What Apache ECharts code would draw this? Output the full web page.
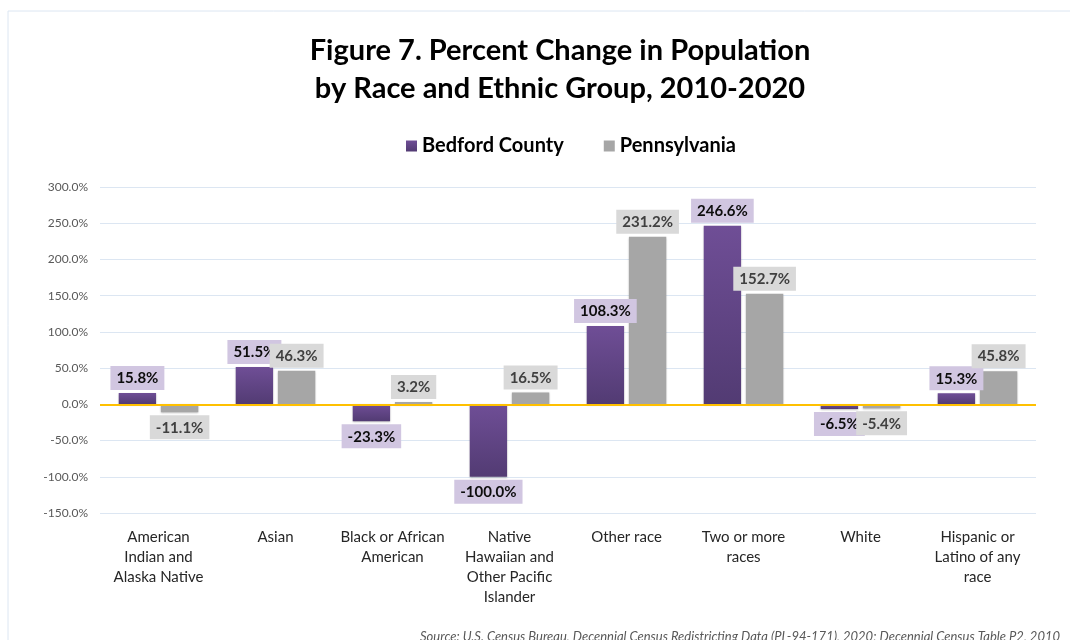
<!DOCTYPE html>
<html>
<head>
<meta charset="utf-8">
<script src="https://cdn.jsdelivr.net/npm/echarts@6/dist/echarts.min.js"></script>
<style>
  html, body { margin: 0; padding: 0; background: #fff; }
</style>
</head>
<body>
<div id="myChart" style="width:1070px;height:640px;"></div>
<script>
var categories = [
  'American\nIndian and\nAlaska Native',
  'Asian',
  'Black or African\nAmerican',
  'Native\nHawaiian and\nOther Pacific\nIslander',
  'Other race',
  'Two or more\nraces',
  'White',
  'Hispanic or\nLatino of any\nrace'
];
var bedford = [15.8, 51.5, -23.3, -100.0, 108.3, 246.6, -6.5, 15.3];
var pennsylvania = [-11.1, 46.3, 3.2, 16.5, 231.2, 152.7, -5.4, 45.8];

var font = 'Lato, "Open Sans", sans-serif';

// label sits above positive bars, below negative ones
function withLabels(values) {
  return values.map(function (v) {
    return { value: v, label: { position: v < 0 ? 'bottom' : 'top' } };
  });
}

var myChart = echarts.init(document.getElementById('myChart'));
myChart.setOption({
  animation: false,
  backgroundColor: '#fff',
  textStyle: { fontFamily: font },
  title: {
    text: 'Figure 7. Percent Change in Population\nby Race and Ethnic Group, 2010-2020',
    left: 555,
    textAlign: 'center',
    top: 27,
    textStyle: { fontSize: 29, fontWeight: 'bold', color: '#000', lineHeight: 38, fontFamily: font }
  },
  legend: {
    top: 131,
    left: 401,
    itemWidth: 11,
    itemHeight: 11,
    itemGap: 40,
    icon: 'rect',
    textStyle: { fontSize: 20, fontWeight: 'bold', color: '#000', fontFamily: font },
    data: ['Bedford County', 'Pennsylvania']
  },
  graphic: [
    {
      type: 'polyline',
      shape: { points: [[8, 640], [8, 11], [1070, 11]] },
      style: { stroke: '#dce6f2', lineWidth: 1, fill: null }
    },
    {
      type: 'text',
      right: 10,
      top: 630,
      style: {
        text: 'Source: U.S. Census Bureau, Decennial Census Redistricting Data (PL-94-171), 2020; Decennial Census Table P2, 2010',
        fill: '#595959',
        font: 'italic 13px ' + font
      }
    }
  ],
  grid: { left: 100, right: 34, top: 187, bottom: 127 },
  xAxis: {
    type: 'category',
    data: categories,
    axisLine: { show: false, onZero: false },
    axisTick: { show: false },
    axisLabel: { color: '#262626', fontSize: 15, lineHeight: 20, margin: 14, interval: 0, fontFamily: font }
  },
  yAxis: {
    type: 'value',
    min: -150,
    max: 300,
    interval: 50,
    axisLabel: {
      color: '#595959',
      fontSize: 12,
      margin: 12,
      fontFamily: font,
      formatter: function (v) { return v.toFixed(1) + '%'; }
    },
    splitLine: { lineStyle: { color: '#dce6f2', width: 1 } }
  },
  series: [
    {
      name: 'Bedford County',
      type: 'bar',
      barGap: '13%',
      barCategoryGap: '32%',
      data: withLabels(bedford),
      itemStyle: {
        color: new echarts.graphic.LinearGradient(0, 0, 0, 1, [
          { offset: 0, color: '#6f4e96' },
          { offset: 1, color: '#523b73' }
        ]),
        shadowColor: 'rgba(0,0,0,0.25)',
        shadowBlur: 2,
        shadowOffsetY: 1
      },
      label: {
        show: true,
        distance: 3,
        fontSize: 15,
        fontWeight: 'bold',
        color: '#0d0d0d',
        backgroundColor: '#d1c6e1',
        padding: [5, 6, 4, 6],
        fontFamily: font,
        formatter: function (p) { return p.value.toFixed(1) + '%'; }
      },
      markLine: {
        silent: true,
        symbol: 'none',
        label: { show: false },
        lineStyle: { color: '#ffc000', width: 2, type: 'solid' },
        data: [{ yAxis: 0 }],
        z: 5
      }
    },
    {
      name: 'Pennsylvania',
      type: 'bar',
      data: withLabels(pennsylvania),
      itemStyle: {
        color: '#a6a6a6',
        shadowColor: 'rgba(0,0,0,0.25)',
        shadowBlur: 2,
        shadowOffsetY: 1
      },
      label: {
        show: true,
        distance: 3,
        fontSize: 15,
        fontWeight: 'bold',
        color: '#404040',
        backgroundColor: '#d9d9d9',
        padding: [5, 6, 4, 6],
        fontFamily: font,
        formatter: function (p) { return p.value.toFixed(1) + '%'; }
      }
    }
  ]
});
</script>
</body>
</html>
